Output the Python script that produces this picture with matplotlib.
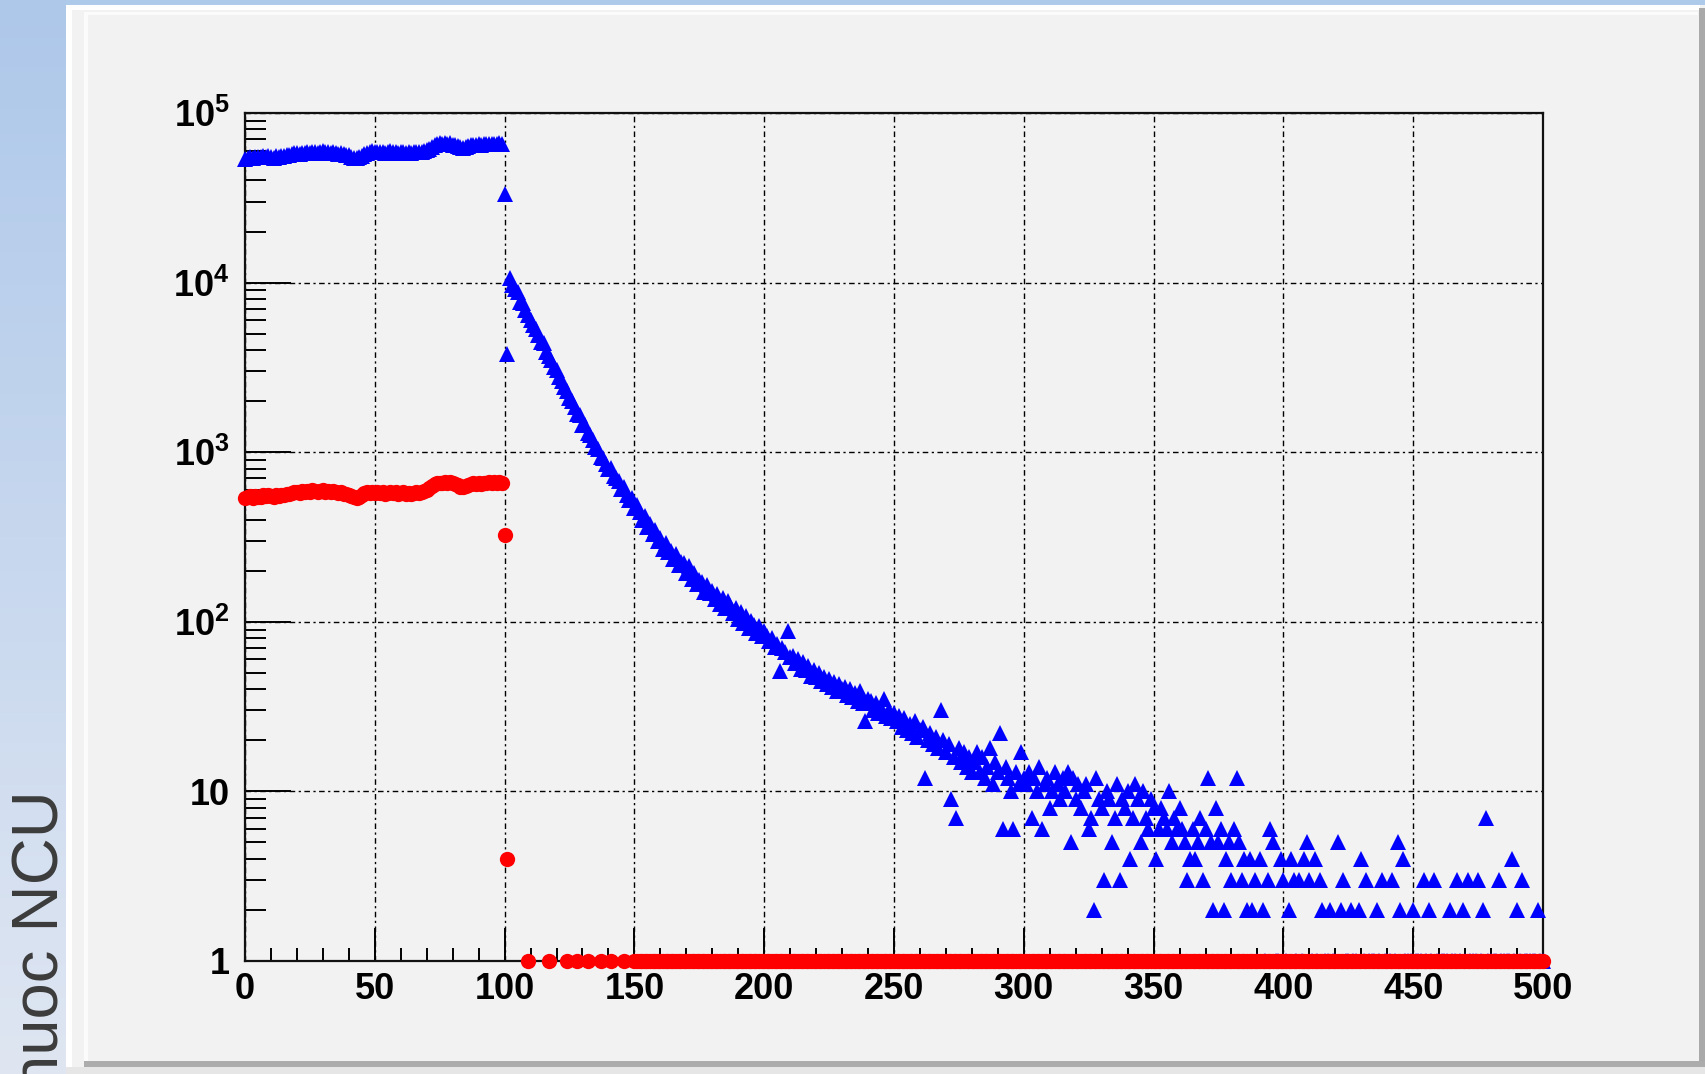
import matplotlib
matplotlib.use("Agg")
import matplotlib.pyplot as plt
from matplotlib.patches import Rectangle
from matplotlib.colors import LinearSegmentedColormap
from matplotlib.ticker import MultipleLocator, LogLocator, NullFormatter
import numpy as np

W, H = 1706, 1074

# ---- data (one value per bin) ----
blue_plateau = [
    53500, 54200, 54800, 54000, 55100, 55300, 54700, 55600, 55000, 55800,
    55200, 54600, 55900, 55400, 56100, 55700, 56300, 56800, 57400, 57900,
    58200, 57600, 58400, 57800, 58900, 58300, 59100, 58600, 58000, 58800,
    59300, 58500, 59000, 58200, 58700, 58100, 57600, 58300, 57200, 56800,
    56300, 55200, 54600, 54100, 54800, 55900, 57300, 58400, 58900, 59400,
    58700, 59200, 58600, 59000, 58300, 58800, 59300, 58500, 58900, 58200,
    58600, 59100, 58400, 58800, 58100, 58500, 59000, 58700, 59200, 59600,
    60200, 61500, 63400, 64800, 65600, 66200, 65800, 66400, 65900, 66300,
    65200, 64700, 63600, 62800, 62500, 63100, 64000, 64600, 65200, 64900,
    65600, 65200, 65800, 65300, 65900, 65400, 66000, 65600, 66200, 65800,
]
red_plateau = [
    535, 542, 550, 539, 553, 548, 541, 556, 549, 558,
    552, 545, 560, 551, 563, 556, 565, 570, 576, 583,
    586, 578, 590, 581, 594, 585, 596, 589, 580, 592,
    597, 586, 593, 582, 589, 580, 574, 584, 569, 565,
    560, 549, 542, 537, 546, 558, 571, 582, 576, 584,
    577, 585, 572, 580, 569, 578, 586, 571, 579, 568,
    575, 583, 570, 578, 566, 574, 581, 576, 585, 592,
    600, 614, 633, 647, 655, 662, 657, 666, 659, 664,
    655, 650, 638, 627, 622, 630, 641, 648, 655, 651,
    658, 652, 661, 654, 663, 656, 664, 658, 667, 660,
]
# bins 100 and 101 (the drop)
blue_edge = [33500, 3800]
red_edge = [325, 4]

# blue decay, bins 102..200
blue_decay = [
    10600, 9700, 9200, 8800, 7700, 7600, 6900, 6400, 6000, 5600,
    5300, 4900, 4450, 4400, 3900, 3700, 3500, 3200, 3050, 2780,
    2640, 2420, 2300, 2080, 2010, 1840, 1690, 1660, 1450, 1440,
    1290, 1260, 1180, 1080, 1040, 940, 930, 850, 800, 810,
    720, 700, 680, 610, 620, 560, 520, 540, 470, 490,
    445, 400, 420, 360, 375, 330, 350, 300, 312, 270,
    290, 258, 262, 236, 252, 215, 226, 222, 195, 212,
    180, 194, 168, 176, 172, 150, 164, 148, 152, 136,
    146, 128, 138, 120, 132, 124, 112, 120, 104, 115,
    98, 108, 92, 101, 96, 86, 94, 82, 88,
]
# blue tail, bins 201..386 (integer counts)
blue_tail = [
    82, 77, 80, 71, 74, 51, 70, 66, 88, 62,
    63, 57, 60, 53, 58, 52, 55, 48, 52, 47,
    50, 45, 47, 43, 46, 41, 44, 39, 43, 40,
    41, 37, 40, 36, 38, 34, 39, 33, 26, 35,
    34, 30, 33, 29, 31, 35, 28, 30, 27, 29,
    26, 28, 24, 27, 23, 25, 22, 26, 21, 23,
    24, 12, 20, 22, 19, 21, 18, 30, 20, 17,
    19, 9, 16, 7, 18, 15, 17, 14, 16, 13,
    15, 17, 13, 16, 12, 14, 18, 11, 15, 13,
    22, 6, 14, 12, 10, 6, 13, 11, 17, 12,
    11, 13, 7, 12, 10, 14, 6, 11, 12, 8,
    10, 13, 11, 9, 12, 10, 13, 5, 12, 9,
    11, 8, 10, 11, 6, 7, 2, 12, 9, 8,
    3, 10, 9, 5, 7, 11, 3, 9, 8, 10,
    4, 7, 11, 9, 5, 10, 7, 6, 9, 8,
    4, 6, 8, 7, 6, 10, 5, 7, 6, 8,
    6, 5, 3, 4, 6, 4, 5, 7, 3, 6,
    12, 5, 2, 8, 5, 6, 2, 4, 5, 3,
    6, 12, 5, 3, 4, 2,
]
# far tail, bins 387..500: listed bins by count, all other bins hold 1
tail_count_2 = [388, 392, 402, 415, 418, 422, 426, 429, 436, 445, 450, 456,
                464, 469, 477, 490, 498]
tail_count_3 = [389, 394, 400, 404, 406, 410, 414, 423, 432, 438, 442, 454,
                458, 467, 471, 475, 483, 492]
tail_count_4 = [387, 391, 399, 403, 408, 412, 430, 446, 488]
tail_count_5 = [396, 409, 421, 444]
tail_count_6 = [395]
tail_count_7 = [478]

# red after the drop: a count of 1 in these bins
red_ones_x = [109, 117, 124, 128, 132, 137, 141, 146] + list(range(150, 501))

# ---- assemble series ----
blue_x = list(range(0, 387))
blue_y = blue_plateau + blue_edge + blue_decay + blue_tail
far = {b: 1 for b in range(387, 501)}
for cnt, bins in [(2, tail_count_2), (3, tail_count_3), (4, tail_count_4),
                  (5, tail_count_5), (6, tail_count_6), (7, tail_count_7)]:
    for b in bins:
        far[b] = cnt
blue_x += sorted(far)
blue_y += [far[b] for b in sorted(far)]

red_x = list(range(0, 102)) + red_ones_x
red_y = red_plateau + red_edge + [1] * len(red_ones_x)

# ---- figure / slide background ----
plt.rcParams['font.family'] = ['Liberation Sans', 'DejaVu Sans']
plt.rcParams['mathtext.fontset'] = 'custom'
plt.rcParams['mathtext.bf'] = 'Liberation Sans:bold'
plt.rcParams['mathtext.rm'] = 'Liberation Sans'
plt.rcParams['lines.scale_dashes'] = False

fig = plt.figure(figsize=(W / 100, H / 100), dpi=100, facecolor='#f2f2f2')


def rect(x0, y0, x1, y1, color):
    fig.add_artist(Rectangle((x0 / W, 1 - y1 / H), (x1 - x0) / W, (y1 - y0) / H,
                             transform=fig.transFigure, color=color, lw=0,
                             zorder=-2))


rect(0, 0, W, 5, '#aecaeb')
rect(66, 5, 72, 1068, '#ffffff')
rect(66, 5, 1700, 10, '#ffffff')
rect(84, 12, 88, 1062, '#fbfbfb')
rect(84, 12, 1698, 15, '#fbfbfb')
rect(1699, 8, W, 1068, '#a9a9a9')
rect(84, 1061, W, 1067, '#acacac')
rect(66, 1067, W, H, '#e6e6e6')

strip = fig.add_axes([0, 0, 66 / W, 1], zorder=-1)
cmap = LinearSegmentedColormap.from_list('strip', ['#aec8ea', '#dfe6f2'])
strip.imshow(np.linspace(0, 1, 256).reshape(-1, 1), aspect='auto', cmap=cmap)
strip.set_axis_off()

# slide text running off the bottom edge, as in the source
fig.text(59 / W, 1 - 790 / H, 'nuoc NCU', rotation=90, rotation_mode='anchor',
         ha='right', va='baseline', fontsize=47, color='#3c3c3c')

# ---- main plot ----
ax = fig.add_axes([245 / W, 1 - 961 / H, (1543 - 245) / W, (961 - 113) / H],
                  zorder=1)
ax.set_facecolor('none')
ax.set_yscale('log')
ax.set_xlim(0, 500)
ax.set_ylim(1, 1e5)

ax.plot(blue_x, blue_y, ls='none', marker='^', ms=11.5, mew=0, color='#0000ff',
        clip_on=False, zorder=3)
ax.plot(red_x, red_y, ls='none', marker='o', ms=11, mew=0, color='#ff0000',
        clip_on=False, zorder=4)

ax.grid(True, which='major', color='black', lw=1.0,
        linestyle=(0, (4.0, 2.5, 1.6, 2.5)))
ax.set_axisbelow(True)

for s in ax.spines.values():
    s.set_linewidth(1.6)
    s.set_color('#111111')

ax.set_xticks([0, 50, 100, 150, 200, 250, 300, 350, 400, 450, 500])
ax.xaxis.set_minor_locator(MultipleLocator(10))
ax.set_yticks([1, 10, 100, 1000, 1e4, 1e5],
              ['1', '10', r'$\mathbf{10^{2}}$', r'$\mathbf{10^{3}}$',
               r'$\mathbf{10^{4}}$', r'$\mathbf{10^{5}}$'])
ax.yaxis.set_minor_locator(LogLocator(base=10, subs=np.arange(2, 10)))
ax.yaxis.set_minor_formatter(NullFormatter())

ax.tick_params(axis='x', which='major', direction='in', length=24, width=1.4,
               labelsize=26, pad=8, top=False)
ax.tick_params(axis='x', which='minor', direction='in', length=9.5, width=1.4,
               top=False)
ax.tick_params(axis='y', which='major', direction='in', length=33, width=1.4,
               labelsize=26, pad=11, right=False)
ax.tick_params(axis='y', which='minor', direction='in', length=15, width=1.4,
               right=False)
for lab in ax.get_xticklabels() + ax.get_yticklabels():
    lab.set_fontweight('bold')

fig.savefig('out.png', dpi=100, facecolor=fig.get_facecolor())
